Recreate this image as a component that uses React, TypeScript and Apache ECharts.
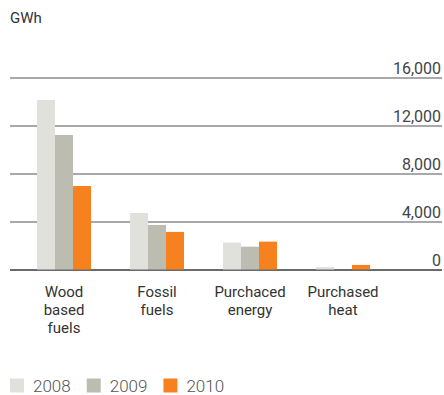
import React, { useEffect, useRef } from "react";
import * as echarts from "echarts";

const categories = ["Wood\nbased\nfuels", "Fossil\nfuels", "Purchaced\nenergy", "Purchased\nheat"];
const years = ["2008", "2009", "2010"];
const values2008 = [14100, 4700, 2240, 200];
const values2009 = [11200, 3710, 1900, 0];
const values2010 = [6950, 3130, 2320, 380];
const yTicks = [0, 4000, 8000, 12000, 16000];
const colors = ["#e0e1db", "#bcbcb0", "#f5821f"];

const FONT = "Roboto, 'Noto Sans', sans-serif";

export default function App() {
  const ref = useRef<HTMLDivElement>(null);
  useEffect(() => {
    document.body.style.margin = "0";
    if (!ref.current) return;
    const chart = echarts.init(ref.current, undefined, { renderer: "svg" });
    const seriesData = [values2008, values2009, values2010];
    chart.setOption({
      animation: false,
      textStyle: { fontFamily: FONT },
      graphic: [
        {
          type: "text",
          left: 10,
          top: 10,
          style: { text: "GWh", fontSize: 15, fill: "#333", fontFamily: FONT },
        },
      ],
      legend: {
        left: 10,
        bottom: 1,
        padding: 0,
        itemWidth: 14,
        itemHeight: 14,
        itemGap: 16,
        icon: "rect",
        data: years,
        textStyle: { fontSize: 17, color: "#555", fontFamily: FONT, fontWeight: 300, padding: [0, 0, 0, 4] },
      },
      grid: [
        { left: 17.5, width: 372, top: 77.3, bottom: 125.5 },
        { left: 10, right: 0, top: 77.3, bottom: 125.5 },
      ],
      xAxis: [
        {
          type: "category",
          gridIndex: 0,
          data: categories,
          axisLine: { show: false },
          axisTick: { show: false },
          axisLabel: {
            fontSize: 15,
            lineHeight: 18,
            color: "#333",
            margin: 13,
            fontFamily: FONT,
          },
        },
        {
          type: "value",
          gridIndex: 1,
          show: false,
          min: 0,
          max: 1,
        },
      ],
      yAxis: [
        {
          type: "value",
          gridIndex: 0,
          min: 0,
          max: 16000,
          interval: 4000,
          show: false,
        },
        {
          type: "value",
          gridIndex: 1,
          min: 0,
          max: 16000,
          interval: 4000,
          position: "right",
          axisLine: { show: false },
          axisTick: { show: false },
          splitLine: {
            show: true,
            lineStyle: {
              color: ["#3a3a3a", "#8c8c8c", "#8c8c8c", "#8c8c8c", "#8c8c8c"],
              width: 1.6,
            },
          },
          axisLabel: {
            inside: true,
            verticalAlign: "bottom",
            align: "right",
            margin: 1,
            padding: [0, 0, 1, 0],
            fontSize: 16,
            color: "#444",
            fontFamily: FONT,
            formatter: (v: number) => (yTicks.includes(v) ? v.toLocaleString("en-US") : ""),
          },
        },
      ],
      series: years.map((y, i) => ({
        name: y,
        type: "bar",
        xAxisIndex: 0,
        yAxisIndex: 0,
        data: seriesData[i],
        barWidth: 18,
        barGap: "0%",
        itemStyle: { color: colors[i] },
      })),
    });
    return () => chart.dispose();
  }, []);
  return <div ref={ref} style={{ width: 444, height: 395 }} />;
}
